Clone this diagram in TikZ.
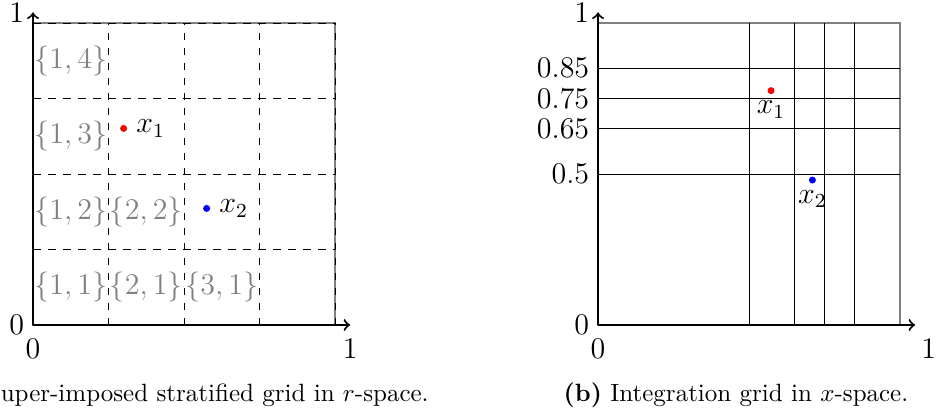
\documentclass[tikz,border=0pt]{standalone}
\usepackage{amsmath,amssymb}
\usetikzlibrary{positioning}
\tikzset{
  frame/.style={gray, thick},
  cellab/.style={gray},
  ptdot/.style={circle, fill=#1, inner sep=0pt, minimum size=2.8pt},
  axis/.style={thick, ->},
  biglab/.style={font=\fontsize{11.7pt}{14pt}\selectfont},
  caption/.style={font=\normalsize, anchor=base, inner sep=0pt},
}

\begin{document}
\begin{tikzpicture}[x=120.8pt, y=120.8pt, every node/.style={biglab}]
  \useasboundingbox (-0.1093,-0.3013) rectangle (2.9901,1.0762);

  % (a) stratified grid in r-space
  \draw[frame] (0,0) rectangle (1,1);
  \foreach \t in {0.25,0.5,0.75,1} {
    \draw[dashed] (\t,0) -- (\t,1);
    \draw[dashed] (0,\t) -- (1,\t);
  }
  \coordinate (ao) at (0,0);
  \coordinate (ax) at (1.05,0);
  \coordinate (ay) at (0,1.035);
  \draw[axis] (ao) -- (ax);
  \draw[axis] (ao) -- (ay);
  \node[below=2pt] (axlab) at (ax) {$1$};
  \node[left=0pt] (aylab) at (ay) {$1$};
  \node[left=0pt] (aoy) at (ao) {$0$};
  \node[below=2pt] (aox) at (ao) {$0$};

  % cell labels
  \foreach \i/\j in {1/1,2/1,3/1,1/2,2/2,1/3,1/4}
    \node[cellab] (c\i\j) at ({(\i-0.5)/4},{(\j-0.5)/4}) {$\{\i,\j\}$};

  % points
  \node[ptdot=red] (r1) at (0.3,0.651) {};
  \node[right=0pt of r1] (r1lab) {$x_1$};
  \node[ptdot=blue] (r2) at (0.575,0.386) {};
  \node[right=0pt of r2] (r2lab) {$x_2$};

  \node[caption, anchor=base west] (capa) at (-0.1083,-0.2517)
    {uper-imposed stratified grid in $r$-space.};

  % (b) integration grid in x-space
  \begin{scope}[shift={(1.8709,0)}]
    \draw[frame] (0,0) rectangle (1,1);
    \foreach \t in {0.5,0.65,0.75,0.85} {
      \draw (\t,0) -- (\t,1);
      \draw (0,\t) -- (1,\t);
      \node[left=0pt] at (0,\t) {$\t$};
    }
    \coordinate (bo) at (0,0);
    \coordinate (bx) at (1.05,0);
    \coordinate (by) at (0,1.035);
    \draw[axis] (bo) -- (bx);
    \draw[axis] (bo) -- (by);
    \node[below=2pt] (bxlab) at (1.095,0) {$1$};
    \node[left=0pt] (bylab) at (by) {$1$};
    \node[left=0pt] (boy) at (bo) {$0$};
    \node[below=2pt] (box) at (bo) {$0$};

    % mapped points
    \node[ptdot=red] (s1) at (0.573,0.776) {};
    \node[below=-1pt of s1] (s1lab) {$x_1$};
    \node[ptdot=blue] (s2) at (0.71,0.48) {};
    \node[below=-1pt of s2] (s2lab) {$x_2$};

    \node[caption] (capb) at (0.457,-0.2517)
      {\textbf{(b)} Integration grid in $x$-space.};
  \end{scope}
\end{tikzpicture}
\end{document}
